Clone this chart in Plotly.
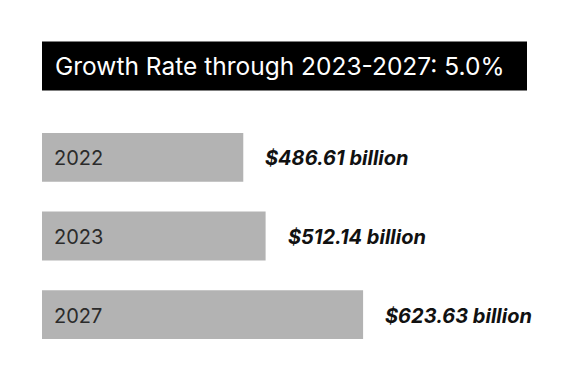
import plotly.graph_objects as go

years = ["2022", "2023", "2027"]
values = [486.61, 512.14, 623.63]
value_labels = ["$486.61 billion", "$512.14 billion", "$623.63 billion"]
title_text = "Growth Rate through 2023-2027: 5.0%"

# page body adds an 8px offset; layout numbers below account for it
W, H = 570, 382
ml, mr, mt, mb = 34, 51, 110.4, 36.1
plot_h = H - mt - mb

x_min, x_max = 256.4, 811.1

fig = go.Figure(go.Bar(
    x=values, y=years, orientation="h",
    marker=dict(color="#b3b3b3", line=dict(width=0)),
    hoverinfo="skip",
))

for i, (yr, v, lab) in enumerate(zip(years, values, value_labels)):
    fig.add_annotation(x=0, xref="paper", y=i, yref="y", text=yr,
                       xanchor="left", yanchor="middle", xshift=10, yshift=-1, showarrow=False,
                       font=dict(family="Inter", size=20, color="#2b2b2b"))
    fig.add_annotation(x=v, xref="x", y=i, yref="y", text="<b><i>" + lab + "</i></b>",
                       xanchor="left", yanchor="middle", xshift=20, yshift=-1, showarrow=False,
                       font=dict(family="Inter", size=20, color="#111111"))

y_top = 1 + (mt - 34) / plot_h
y_bot = 1 + (mt - 83) / plot_h
fig.add_shape(type="rect", xref="paper", yref="paper", x0=0, x1=1, y0=y_bot, y1=y_top,
              fillcolor="#000000", line=dict(width=0), layer="above")
fig.add_annotation(x=0, xref="paper", y=(y_top + y_bot) / 2, yref="paper", text=title_text,
                   xanchor="left", yanchor="middle", xshift=11, showarrow=False,
                   font=dict(family="Inter", size=24.5, color="#ffffff"))

fig.update_layout(
    width=W, height=H,
    margin=dict(l=ml, r=mr, t=mt, b=mb, pad=0),
    paper_bgcolor="#ffffff", plot_bgcolor="#ffffff",
    bargap=0.38, showlegend=False,
    xaxis=dict(range=[x_min, x_max], visible=False, fixedrange=True),
    yaxis=dict(type="category", categoryorder="array", categoryarray=years,
               range=[2.5, -0.5], autorange=False, visible=False, fixedrange=True),
)

fig.write_html("out.html", config={"displayModeBar": False})
